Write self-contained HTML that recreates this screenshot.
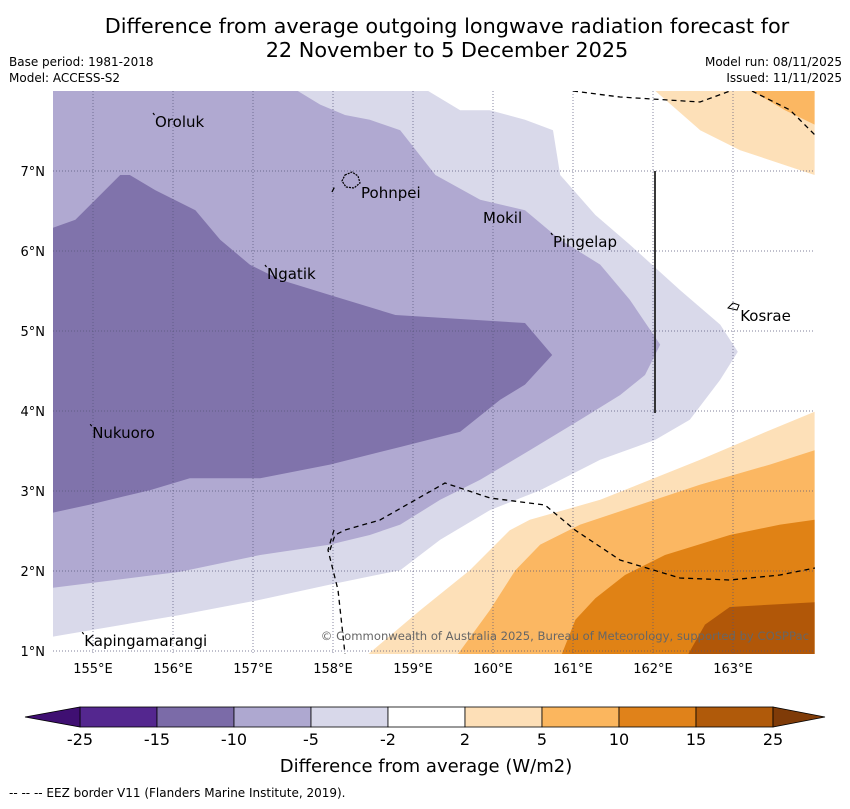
<!DOCTYPE html>
<html><head><meta charset="utf-8"><style>
body{margin:0;background:#fff;width:850px;height:804px;overflow:hidden;font-family:"Liberation Sans",sans-serif}
svg text{font-family:"DejaVu Sans","Liberation Sans",sans-serif}
</style></head><body>
<svg id="chart" width="850" height="804">
<text x="447" y="33" font-size="20.8" text-anchor="middle">Difference from average outgoing longwave radiation forecast for</text>
<text x="447" y="57" font-size="20.8" text-anchor="middle">22 November to 5 December 2025</text>
<text x="9" y="66" font-size="12">Base period: 1981-2018</text>
<text x="9" y="82" font-size="12">Model: ACCESS-S2</text>
<text x="842" y="66" font-size="12" text-anchor="end">Model run: 08/11/2025</text>
<text x="842" y="82" font-size="12" text-anchor="end">Issued: 11/11/2025</text>
<g id="map"></g>
<g id="cbar"></g>
<text x="426" y="772" font-size="18" text-anchor="middle">Difference from average (W/m2)</text>
<text x="9" y="797" font-size="12">--  --  -- EEZ border V11 (Flanders Marine Institute, 2019).</text>
</svg>
<script>
const lonTicks=[155,156,157,158,159,160,161,162,163];
const latTicks=[1,2,3,4,5,6,7];
const levelColors=['#d9d9ea','#b0a9d1','#8073ab','#fde0b8','#fbb762','#e08215','#b15708'];
const contourMinus2=[[154.5,8],[159.19,8],[159.59,7.76],[159.96,7.76],[160.4,7.64],[160.75,7.51],[160.84,6.95],[161.28,6.45],[161.71,6.08],[162.34,5.51],[162.84,5.08],[163.06,4.74],[162.84,4.39],[162.46,3.89],[162.03,3.64],[161.34,3.39],[160.59,3.01],[159.96,2.76],[159.34,2.39],[158.84,2.01],[157.96,1.83],[157.09,1.64],[156.09,1.45],[154.5,1.18]];
const contourMinus5=[[154.5,8],[157.56,8],[157.84,7.83],[158.15,7.7],[158.46,7.64],[158.84,7.51],[159.28,6.95],[159.84,6.64],[160.4,6.51],[160.84,6.14],[161.34,5.83],[161.71,5.39],[162.09,4.83],[161.9,4.45],[161.59,4.2],[161.09,3.89],[160.46,3.51],[159.84,3.14],[159.34,2.89],[158.84,2.58],[158.46,2.45],[157.96,2.33],[157.09,2.2],[156.09,1.99],[154.5,1.79]];
const contourMinus10=[[154.5,6.29],[154.78,6.39],[155.09,6.7],[155.34,6.95],[155.46,6.95],[155.78,6.76],[156.28,6.51],[156.59,6.14],[156.96,5.83],[157.34,5.64],[157.96,5.45],[158.78,5.2],[160.4,5.1],[160.74,4.7],[160.4,4.33],[160.09,4.14],[159.59,3.74],[158.84,3.55],[157.96,3.33],[157.09,3.16],[156.21,3.16],[155.71,3.01],[154.96,2.83],[154.5,2.73]];
const contourPlus2=[[158.44,0.96],[159.09,1.51],[159.71,2.01],[160.21,2.51],[160.46,2.64],[161.34,2.89],[162.59,3.39],[163.46,3.76],[164.02,3.99],[164.02,0.96]];
const contourPlus5=[[159.56,0.96],[159.96,1.51],[160.28,2.01],[160.59,2.33],[161.09,2.58],[161.84,2.83],[162.59,3.08],[163.46,3.33],[164.02,3.51],[164.02,0.96]];
const contourPlus10=[[160.86,0.96],[161.03,1.39],[161.28,1.66],[161.65,1.95],[162.15,2.2],[162.96,2.45],[163.59,2.58],[164.02,2.64],[164.02,0.96]];
const contourPlus15=[[162.44,0.96],[162.65,1.33],[162.96,1.55],[164.02,1.61],[164.02,0.96]];
const contourTopPlus2=[[162.03,8],[162.59,7.51],[163.09,7.26],[164.02,6.95],[164.02,8]];
const contourTopPlus5=[[163.24,8],[163.65,7.76],[164.02,7.58],[164.02,8]];
const islands=[['Oroluk',155.775,7.55,1],['Pohnpei',158.35,6.66,0],['Mokil',159.875,6.35,0],['Pingelap',160.75,6.05,1],['Ngatik',157.175,5.65,1],['Kosrae',163.09,5.125,0],['Nukuoro',154.99,3.66,1],['Kapingamarangi',154.89,1.06,1]];
const cbarLabels=['-25','-15','-10','-5','-2','2','5','10','15','25'];
const cbarColors=['#54278f','#7b6ba8','#aea8d0','#d8d8ea','#ffffff','#fddfb7','#fbb65e','#e0821a','#b05a0a'];

const NS='http://www.w3.org/2000/svg';
const X0=53,X1=815,Y0=91,Y1=654;
const xs=lon=>X0+(lon-154.5)*80;
const ys=lat=>Y0+(8-lat)*80;
function mk(tag,attrs,parent){const e=document.createElementNS(NS,tag);for(const k in attrs)e.setAttribute(k,attrs[k]);parent.appendChild(e);return e;}
const map=document.getElementById('map');
const defs=mk('defs',{},map);
const cp=mk('clipPath',{id:'clip'},defs);mk('rect',{x:X0,y:Y0,width:X1-X0,height:Y1-Y0},cp);
const g=mk('g',{'clip-path':'url(#clip)'},map);
const polys=[[contourMinus2,0,'fill-minus2'],[contourMinus5,1,'fill-minus5'],[contourMinus10,2,'fill-minus10'],[contourPlus2,3,'fill-plus2'],[contourPlus5,4,'fill-plus5'],[contourPlus10,5,'fill-plus10'],[contourPlus15,6,'fill-plus15'],[contourTopPlus2,3,'fill-top-plus2'],[contourTopPlus5,4,'fill-top-plus5']];
polys.forEach(p=>{
 const el=mk('polygon',{points:p[0].map(q=>xs(q[0])+','+ys(q[1])).join(' '),fill:levelColors[p[1]]},g);
 
 
});
lonTicks.forEach(l=>{
 const ln=mk('line',{x1:xs(l),x2:xs(l),y1:Y0,y2:Y1,stroke:'#55557a','stroke-width':0.7,'stroke-dasharray':'1,2'},g);
 
 
 const t=mk('text',{x:xs(l),y:673,'font-size':13,'text-anchor':'middle'},map);t.textContent=l+'°E';
 
 
});
latTicks.forEach(l=>{
 const ln=mk('line',{x1:X0,x2:X1,y1:ys(l),y2:ys(l),stroke:'#55557a','stroke-width':0.7,'stroke-dasharray':'1,2'},g);
 
 
 const t=mk('text',{x:45,y:ys(l)+5,'font-size':13,'text-anchor':'end'},map);t.textContent=l+'°N';
 
 
});
const eez=['M573,91 L620,97 L700,102 L730,91','M752,91 L790,110 L815,135','M330,550 L335,535 L345,530 L380,520 L445,483 L490,498 L545,505 L575,530 L620,560 L680,578 L730,580 L780,575 L815,568','M334,530 L328,550 L338,590 L345,654','M332,192 L335,186'];
eez.forEach(d=>{const e=mk('path',{d:d,fill:'none',stroke:'#000','stroke-width':1.3,'stroke-dasharray':'5,4'},g);
 
 });
const vl=mk('line',{x1:655,x2:655,y1:171,y2:413,stroke:'#222','stroke-width':1.8},g);


const ph=mk('path',{d:'M345,175 L352,172 L358,176 L360,183 L354,188 L346,187 L342,181 Z',fill:'none',stroke:'#000','stroke-width':1.2,'stroke-dasharray':'2,1'},g);


const ks=mk('path',{d:'M728,308 L733,303 L739,305 L737,310 Z',fill:'none',stroke:'#000','stroke-width':1},g);


islands.forEach(s=>{
 const x=xs(s[1]),y=ys(s[2]);
 if(s[3]){
 const d=mk('line',{x1:x-2,y1:y-14,x2:x-0.5,y2:y-12,stroke:'#000','stroke-width':1.2},map);
 
 
 }
 const t=mk('text',{x:x,y:y,'font-size':15},map);t.textContent=s[0];
 
 
});
const cr=mk('text',{x:809,y:640,'font-size':11.6,'text-anchor':'end',fill:'#666'},map);
cr.textContent='© Commonwealth of Australia 2025, Bureau of Meteorology, supported by COSPPac';


const cb=document.getElementById('cbar');
const cx0=80,cw=77,cy=707,ch=20;
cbarColors.forEach((c,i)=>{
 const r=mk('rect',{x:cx0+i*cw,y:cy,width:cw,height:ch,fill:c,stroke:'#000','stroke-width':0.8},cb);
 
 
});
const tl=mk('polygon',{points:`25,${cy+ch/2} ${cx0},${cy} ${cx0},${cy+ch}`,fill:'#3f0f72',stroke:'#000','stroke-width':0.8},cb);


const xe=cx0+cbarColors.length*cw;
const tr=mk('polygon',{points:`825,${cy+ch/2} ${xe},${cy} ${xe},${cy+ch}`,fill:'#7f3b08',stroke:'#000','stroke-width':0.8},cb);


cbarLabels.forEach((l,i)=>{
 const t=mk('text',{x:cx0+i*cw,y:745,'font-size':16,'text-anchor':'middle'},cb);t.textContent=l;
 
 
});
</script>
</body></html>
